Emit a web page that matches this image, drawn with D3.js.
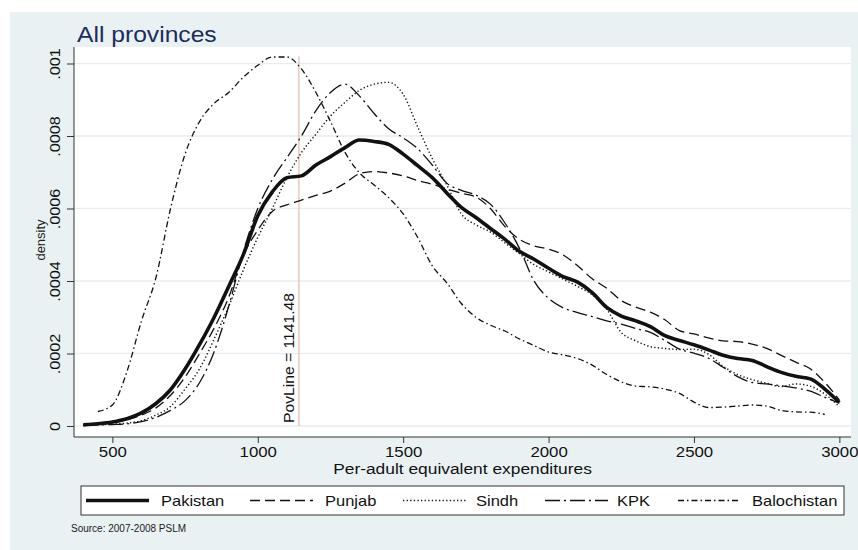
<!DOCTYPE html>
<html>
<head>
<meta charset="utf-8">
<script src="https://cdn.jsdelivr.net/npm/d3@7/dist/d3.min.js"></script>
<style>
  body { margin: 0; background: #fff; }
  svg text { font-family: "Liberation Sans", Arial, sans-serif; }
</style>
</head>
<body>
<div id="container"></div>
<script>
// expenditure grid (x values at which curves were read)
const expend = [400, 450, 500, 550, 600, 650, 700, 750, 800, 850, 900, 950, 1000, 1050, 1100, 1150,
  1200, 1250, 1300, 1350, 1400, 1450, 1500, 1550, 1600, 1650, 1700, 1750, 1800, 1850, 1900, 1950,
  2000, 2050, 2100, 2150, 2200, 2250, 2300, 2350, 2400, 2450, 2500, 2550, 2600, 2650, 2700, 2750,
  2800, 2850, 2900, 2950, 3000];

const pakistan = [0.000003, 0.000006, 0.000011, 0.00002, 0.000036, 0.000062, 0.0001, 0.000157, 0.000225, 0.0003,
  0.000385, 0.000472, 0.00058, 0.000646, 0.000685, 0.00069, 0.00072, 0.000743, 0.000768, 0.000789,
  0.000785, 0.000777, 0.00075, 0.000718, 0.000685, 0.000643, 0.000603, 0.000575, 0.000545, 0.000515,
  0.000482, 0.00046, 0.000435, 0.000412, 0.000397, 0.000368, 0.000327, 0.000303, 0.00029, 0.000274,
  0.000249, 0.000236, 0.000224, 0.00021, 0.000195, 0.000186, 0.000181, 0.000164, 0.000148, 0.000137,
  0.00013, 0.000102, 0.000065];

const punjab = [0.000003, 0.000005, 0.00001, 0.000017, 0.00003, 0.00005, 0.000085, 0.000135, 0.0002, 0.00027,
  0.000355, 0.00047, 0.00054, 0.000592, 0.00061, 0.000623, 0.000636, 0.000648, 0.00067, 0.000696,
  0.000702, 0.000698, 0.00069, 0.000677, 0.000667, 0.000654, 0.000642, 0.000632, 0.0006, 0.00055,
  0.000515, 0.000497, 0.000488, 0.000472, 0.000442, 0.000406, 0.00038, 0.000346, 0.000328, 0.000314,
  0.000293, 0.000263, 0.000254, 0.000243, 0.000235, 0.000233, 0.000226, 0.000214, 0.000195, 0.000176,
  0.000158, 0.00012, 0.000072];

const sindh = [0.000003, 0.000004, 0.000005, 0.000008, 0.000015, 0.00003, 0.000054, 0.000102, 0.000158, 0.00024,
  0.00033, 0.00043, 0.00052, 0.0006, 0.000685, 0.000754, 0.000805, 0.000855, 0.000893, 0.000926,
  0.000943, 0.000948, 0.000915, 0.000825, 0.000738, 0.000665, 0.000585, 0.000555, 0.000535, 0.000505,
  0.000475, 0.000445, 0.000425, 0.000405, 0.000385, 0.000362, 0.000322, 0.000258, 0.000235, 0.000219,
  0.000214, 0.000211, 0.000212, 0.000198, 0.000165, 0.000142, 0.000128, 0.000118, 0.000109, 0.000116,
  0.00011, 0.000088, 0.000053];

const kpk = [0.000002, 0.000003, 0.000004, 0.000006, 0.000012, 0.000024, 0.000043, 0.00007, 0.00012, 0.000205,
  0.00033, 0.00048, 0.0006, 0.00068, 0.00074, 0.0008, 0.00087, 0.00092, 0.000943, 0.00091,
  0.000862, 0.00082, 0.000795, 0.000765, 0.00072, 0.00067, 0.00065, 0.000637, 0.000612, 0.00056,
  0.00049, 0.0004, 0.000352, 0.000326, 0.000313, 0.000302, 0.00029, 0.000281, 0.000269, 0.000258,
  0.000236, 0.000212, 0.000201, 0.000187, 0.000162, 0.000136, 0.00012, 0.000116, 0.000111, 0.000105,
  0.000096, 0.000079, 0.000063];

const balochistan = [null, 0.00004, 0.000058, 0.00015, 0.00029, 0.00041, 0.0006, 0.00075, 0.00084, 0.00089,
  0.00092, 0.000962, 0.000995, 0.001018, 0.001018, 0.000985, 0.00092, 0.00084, 0.000755, 0.000698,
  0.000665, 0.00063, 0.000585, 0.00052, 0.000442, 0.000395, 0.000338, 0.0003, 0.000278, 0.000262,
  0.00024, 0.000222, 0.000204, 0.000196, 0.000186, 0.000168, 0.000142, 0.000122, 0.00011, 0.000108,
  0.000102, 0.00009, 0.000066, 0.000051, 0.000052, 0.000055, 0.000058, 0.000055, 0.000043, 0.000039,
  0.000038, 0.000032, null];

const seriesNames = ["Pakistan", "Punjab", "Sindh", "KPK", "Balochistan"];
const seriesValues = [pakistan, punjab, sindh, kpk, balochistan];

const xTicks = [500, 1000, 1500, 2000, 2500, 3000];
const yTicks = [0, 0.0002, 0.0004, 0.0006, 0.0008, 0.001];
const yTickLabels = ["0", ".0002", ".0004", ".0006", ".0008", ".001"];
const povLine = 1141.48;

const width = 858;
const height = 550;
const plot = { left: 74, right: 851, top: 47, bottom: 437 };

const styles = {
    Pakistan: { width: 3.6, dash: null },
    Punjab: { width: 1.3, dash: "10,5" },
    Sindh: { width: 1.4, dash: "1.3,2.3" },
    KPK: { width: 1.3, dash: "15,4,2,4" },
    Balochistan: { width: 1.3, dash: "6,3,1.5,3" }
};

// the source image text is a bit wider than Arial at the same height
function widen(sel, k) {
    sel.each(function() {
        const w = this.getComputedTextLength();
        d3.select(this)
            .attr("textLength", w * k)
            .attr("lengthAdjust", "spacingAndGlyphs");
    });
}

const svg = d3.select("#container").append("svg")
    .attr("width", width)
    .attr("height", height);

// graph region background
svg.append("rect")
    .attr("x", 10).attr("y", 12)
    .attr("width", width - 10).attr("height", height - 12)
    .attr("fill", "#eaf1f3");

// plot region
svg.append("rect")
    .attr("x", plot.left).attr("y", plot.top)
    .attr("width", plot.right - plot.left).attr("height", plot.bottom - plot.top)
    .attr("fill", "#fff");

const x = d3.scaleLinear()
    .domain([368, 3040])
    .range([plot.left, plot.right]);

const y = d3.scaleLinear()
    .domain([0, 0.001])
    .range([426, 63.5]);

// gridlines
svg.append("g")
    .selectAll("line")
    .data(yTicks)
    .join("line")
    .attr("x1", plot.left).attr("x2", plot.right)
    .attr("y1", d => y(d)).attr("y2", d => y(d))
    .attr("stroke", "#e6eef1")
    .attr("stroke-width", 1.5);

// y axis
const yAxis = svg.append("g")
    .attr("transform", `translate(${plot.left},0)`)
    .call(d3.axisLeft(y).tickValues(yTicks).tickSize(7).tickSizeOuter(0)
        .tickFormat((d, i) => yTickLabels[i]));
yAxis.select(".domain").attr("d", `M0,${plot.top}V${plot.bottom}`);
yAxis.selectAll("line, path").attr("stroke", "#333");
yAxis.selectAll("text")
    .attr("x", 0).attr("dy", 0)
    .attr("transform", "translate(-19,0) rotate(-90)")
    .attr("text-anchor", "middle")
    .attr("dominant-baseline", "central")
    .attr("font-size", 14.5)
    .attr("fill", "#111")
    .call(widen, 1.12);

// x axis
const xAxis = svg.append("g")
    .attr("transform", `translate(0,${plot.bottom})`)
    .call(d3.axisBottom(x).tickValues(xTicks).tickSize(6).tickSizeOuter(0).tickFormat(d3.format("d")));
xAxis.select(".domain").attr("d", `M${plot.left},0H${plot.right}`);
xAxis.selectAll("line, path").attr("stroke", "#333");
xAxis.selectAll("text")
    .attr("y", 9)
    .attr("font-size", 15)
    .attr("fill", "#111")
    .call(widen, 1.12);

// axis titles
svg.append("text")
    .attr("transform", "translate(45,240) rotate(-90)")
    .attr("text-anchor", "middle")
    .attr("font-size", 13)
    .attr("fill", "#222")
    .text("density");

svg.append("text")
    .attr("x", (plot.left + plot.right) / 2)
    .attr("y", 474)
    .attr("text-anchor", "middle")
    .attr("font-size", 15.5)
    .attr("fill", "#111")
    .text("Per-adult equivalent expenditures")
    .call(widen, 1.12);

// title
svg.append("text")
    .attr("x", 77).attr("y", 42)
    .attr("font-size", 22)
    .attr("fill", "#1c2c5c")
    .text("All provinces")
    .call(widen, 1.12);

// poverty line
svg.append("line")
    .attr("x1", x(povLine)).attr("x2", x(povLine))
    .attr("y1", y(0)).attr("y2", y(0.00102))
    .attr("stroke", "#e2c0b0")
    .attr("stroke-width", 1.3);

svg.append("text")
    .attr("transform", `translate(${x(povLine) - 5},${y(0) - 3}) rotate(-90)`)
    .attr("font-size", 14)
    .attr("fill", "#111")
    .text(`PovLine = ${povLine}`)
    .call(widen, 1.12);

// density curves
const line = d3.line()
    .defined(d => d[1] !== null)
    .x(d => x(d[0]))
    .y(d => y(d[1]))
    .curve(d3.curveMonotoneX);

const drawOrder = [4, 3, 2, 1, 0];
drawOrder.forEach(i => {
    const name = seriesNames[i];
    const pts = expend.map((e, j) => [e, seriesValues[i][j]]);
    svg.append("path")
        .datum(pts)
        .attr("fill", "none")
        .attr("stroke", "#111")
        .attr("stroke-width", styles[name].width)
        .attr("stroke-dasharray", styles[name].dash)
        .attr("stroke-linejoin", "round")
        .attr("d", line);
});

// legend
const legend = svg.append("g");
legend.append("rect")
    .attr("x", 81).attr("y", 486)
    .attr("width", 763).attr("height", 29)
    .attr("fill", "#fff")
    .attr("stroke", "#333")
    .attr("stroke-width", 1);

const legendSampleX = [86, 250, 403, 545, 678];
const legendTextX = [161, 325, 476, 617, 752];

seriesNames.forEach((name, i) => {
    legend.append("line")
        .attr("x1", legendSampleX[i]).attr("x2", legendSampleX[i] + 63)
        .attr("y1", 500.5).attr("y2", 500.5)
        .attr("stroke", "#111")
        .attr("stroke-width", styles[name].width)
        .attr("stroke-dasharray", styles[name].dash);
    legend.append("text")
        .attr("x", legendTextX[i]).attr("y", 506)
        .attr("font-size", 15)
        .attr("fill", "#111")
        .text(name)
        .call(widen, 1.1);
});

// note
svg.append("text")
    .attr("x", 71).attr("y", 532)
    .attr("font-size", 10)
    .attr("fill", "#222")
    .text("Source: 2007-2008 PSLM");
</script>
</body>
</html>
